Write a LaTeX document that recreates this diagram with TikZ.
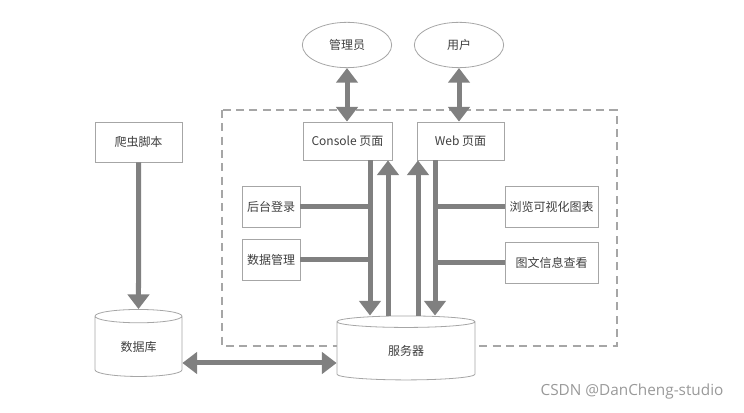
\documentclass[tikz,border=0pt]{standalone}
\usepackage{fontspec}
\newfontfamily\cjk{Noto Sans CJK SC}
\newfontfamily\wmfont{Open Sans}
\usetikzlibrary{arrows.meta,shapes.geometric,calc}
\definecolor{arrgray}{HTML}{808080}
\definecolor{linegray}{HTML}{A6A6A6}
\definecolor{txtgray}{HTML}{3F3F3F}

\begin{document}
\begin{tikzpicture}[x=0.75pt,y=0.75pt,yscale=-1,xscale=1,
  box/.style={draw=linegray, line width=0.6pt, fill=white, inner sep=0pt, text=txtgray, font=\cjk\fontsize{9}{11}\selectfont},
  role/.style={box, ellipse, minimum width=67pt, minimum height=34pt},
  store/.style={box, cylinder, shape border rotate=90},
  flow/.style={draw=arrgray, line width=3.75pt},
  tip/.style={-{Triangle[width=16pt,length=11pt]}},
  dtip/.style={{Triangle[width=16pt,length=11pt]}-{Triangle[width=16pt,length=11pt]}}
]
\useasboundingbox (0,0) rectangle (744,413);

%Shape: Dashed Rectangle
\draw [draw=linegray, line width=0.8pt, dash pattern=on 6pt off 4pt] (222,110) rectangle (617,346);

%Shape: Ellipse
\node [role] (admin) at (347,45) {管理员};
\node [role] (user) at (459,45) {用户};

%Shape: Rectangle
\node [box, minimum width=66.75pt, minimum height=28.5pt] (console) at (347.5,141) {Console 页面};
\node [box, minimum width=65.25pt, minimum height=28.5pt] (web) at (460.5,141) {Web 页面};
\node [box, minimum width=65.25pt, minimum height=30pt] (crawler) at (138.5,142) {爬虫脚本};
\node [box, minimum width=43.5pt, minimum height=30.75pt] (login) at (271,206.5) {后台登录};
\node [box, minimum width=43.5pt, minimum height=30.75pt] (manage) at (271,260) {数据管理};
\node [box, minimum width=69.75pt, minimum height=30.75pt] (browse) at (551.5,207) {浏览可视化图表};
\node [box, minimum width=69.75pt, minimum height=30.75pt] (view) at (551.5,263) {图文信息查看};

%Shape: Can
\node [store, minimum width=65.25pt, minimum height=50.25pt, aspect=0.37] (db) at (138.5,346.5) {\raisebox{-3.5pt}{数据库}};
\node [store, minimum width=103.5pt, minimum height=48pt, aspect=0.32] (server) at (406,351) {\raisebox{-3.5pt}{服务器}};

%Straight Lines
\coordinate (c1) at ($(console.south)+(22.5,0)$);
\coordinate (c2) at ($(console.south)+(40.5,0)$);
\coordinate (c3) at ($(web.south)+(-42.5,0)$);
\coordinate (c4) at ($(web.south)+(-25.5,0)$);
\coordinate (dbr) at ($(db.east)+(0,16.5)$);

\draw [flow, dtip] (admin.south) -- (admin.south |- console.north);
\draw [flow, dtip] (user.south) -- (user.south |- web.north);
\draw [flow, tip] (crawler.south) -- (db.north);
\draw [flow, tip] (c1) -- (c1 |- server.north);
\draw [flow, tip] (c2 |- server.north) -- (c2);
\draw [flow, tip] (c3 |- server.north) -- (c3);
\draw [flow, tip] (c4) -- (c4 |- server.north);
\draw [flow] (login.east) -- (login.east -| c1);
\draw [flow] (manage.east) -- (manage.east -| c1);
\draw [flow] (browse.west) -- (browse.west -| c4);
\draw [flow] (view.west) -- (view.west -| c4);
\draw [flow, dtip] (dbr) -- (dbr -| server.west);

% Text Node
\node [text=black!40, font=\wmfont\fontsize{11.5}{13}\selectfont] (mark) at (632,392) {CSDN @DanCheng-studio};

\end{tikzpicture}
\end{document}
